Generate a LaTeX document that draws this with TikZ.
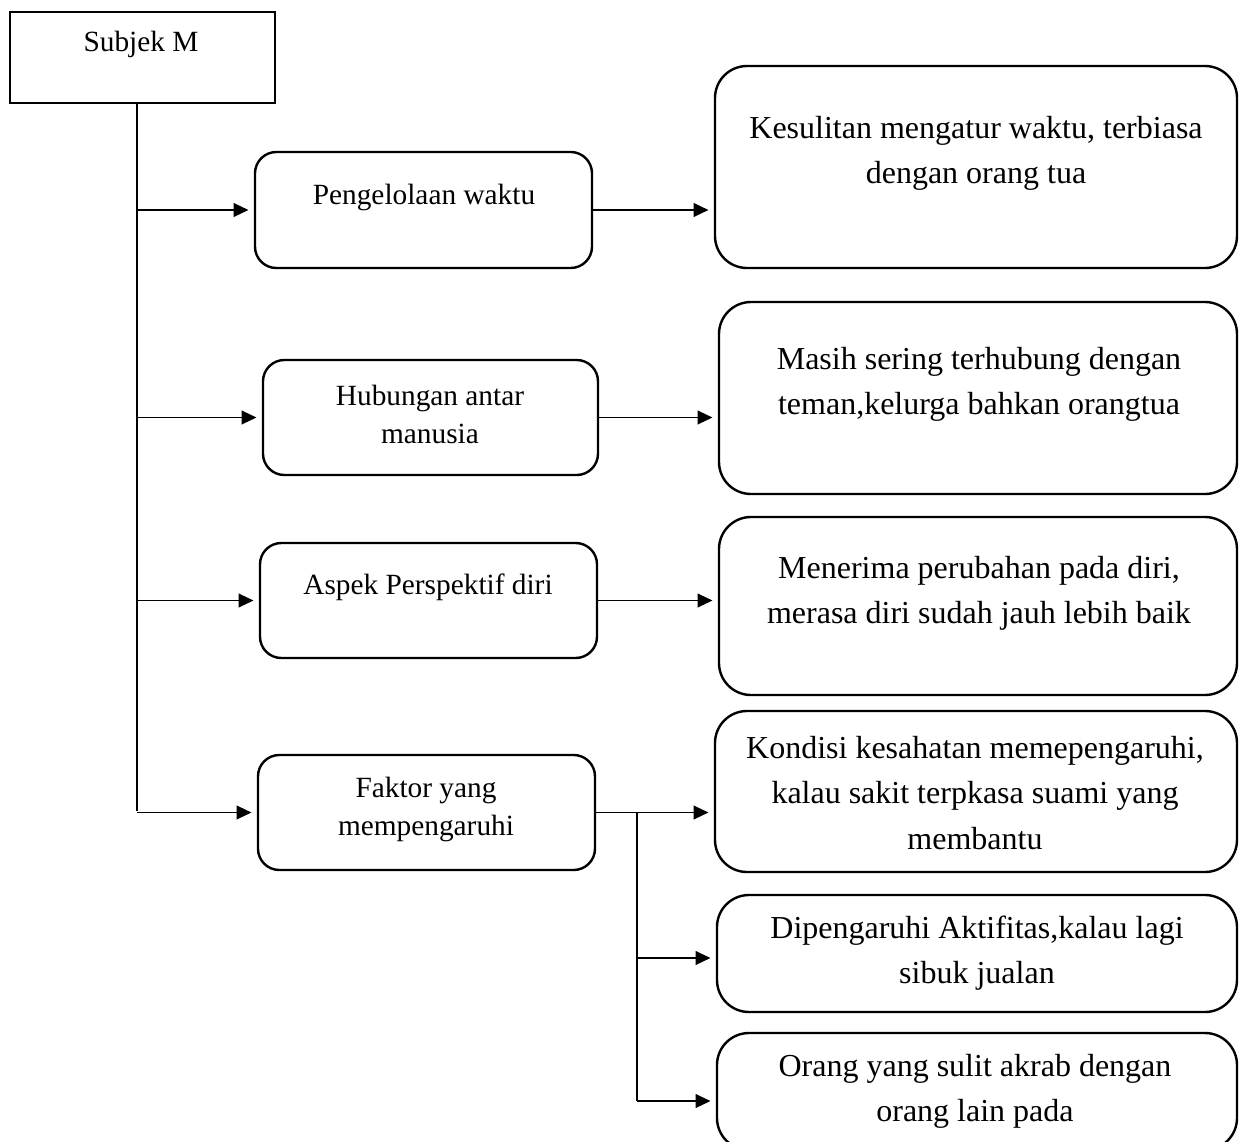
\documentclass[tikz,border=0pt]{standalone}
\usepackage{fontspec}
\setmainfont{Liberation Serif}
\usetikzlibrary{arrows.meta}
\tikzset{
  boxsize/.style 2 args={minimum width=#1*0.375pt, minimum height=#2*0.375pt},
  subjbox/.style={draw, line width=1.1pt, inner sep=0pt},
  lbox/.style={draw, line width=0.9pt, rounded corners=8pt, inner sep=0pt},
  rbox/.style={draw, line width=0.9pt, rounded corners=12pt, inner sep=0pt},
  ltext/.style={align=center, font=\fontsize{11pt}{14.25pt}\selectfont},
  rtext/.style={align=center, font=\fontsize{12pt}{16.9pt}\selectfont},
  link/.style={line width=0.5pt},
  arr/.style={link, -{Triangle[length=5.6pt,width=5.2pt]}, shorten >=2pt}
}

\begin{document}
\begin{tikzpicture}[x=0.375pt, y=-0.375pt]
  \useasboundingbox (0,0) rectangle (1239,1142);

  % boxes
  \node[subjbox, boxsize={265}{91}] (subj) at (142.5,57.5) {};
  \node[lbox, boxsize={337}{116}] (l1) at (423.5,210) {};
  \node[lbox, boxsize={335}{115}] (l2) at (430.5,417.5) {};
  \node[lbox, boxsize={337}{115}] (l3) at (428.5,600.5) {};
  \node[lbox, boxsize={337}{115}] (l4) at (426.5,812.5) {};
  \node[rbox, boxsize={522}{202}] (r1) at (976,167) {};
  \node[rbox, boxsize={518}{192}] (r2) at (978,398) {};
  \node[rbox, boxsize={518}{178}] (r3) at (978,606) {};
  \node[rbox, boxsize={522}{161}] (r4) at (976,791.5) {};
  \node[rbox, boxsize={520}{117}] (r5) at (977,953.5) {};
  \node[rbox, boxsize={520}{117}] (r6) at (977,1091.5) {};

  % texts
  \node[ltext] (subjt) at (141,44) {Subjek M};
  \node[ltext] (l1t) at (424,197) {Pengelolaan waktu};
  \node[ltext] (l2t) at (430,414) {Hubungan antar\\manusia};
  \node[ltext] (l3t) at (428,587) {Aspek Perspektif diri};
  \node[ltext] (l4t) at (426,809) {Faktor yang\\mempengaruhi};
  \node[rtext] (r1t) at (976,153) {Kesulitan mengatur waktu, terbiasa\\dengan orang tua};
  \node[rtext] (r2t) at (979,384) {Masih sering terhubung dengan\\teman,kelurga bahkan orangtua};
  \node[rtext] (r3t) at (979,593) {Menerima perubahan pada diri,\\merasa diri sudah jauh lebih baik};
  \node[rtext] (r4t) at (975,793) {Kondisi kesahatan memepengaruhi,\\kalau sakit terpkasa suami yang\\membantu};
  \node[rtext] (r5t) at (977,953) {Dipengaruhi Aktifitas,kalau lagi\\sibuk jualan};
  \node[rtext] (r6t) at (975,1091) {Orang yang sulit akrab dengan\\orang lain pada};

  % main trunk
  \coordinate (top) at (137,103);
  \coordinate (bot) at (137,811);
  \draw[link] (top) -- (bot);
  \foreach \b in {l1,l2,l3,l4}
    \draw[arr] (top |- \b.west) -- (\b.west);

  % left to right
  \foreach \a/\b in {l1/r1,l2/r2,l3/r3,l4/r4}
    \draw[arr] (\a.east) -- (\a.east -| \b.west);

  % second trunk
  \coordinate (fork) at (637,812);
  \coordinate (b5) at (637,958);
  \coordinate (b6) at (637,1101);
  \draw[link] (fork) -- (b6);
  \draw[arr] (b5) -- (b5 -| r5.west);
  \draw[arr] (b6) -- (b6 -| r6.west);
\end{tikzpicture}
\end{document}
